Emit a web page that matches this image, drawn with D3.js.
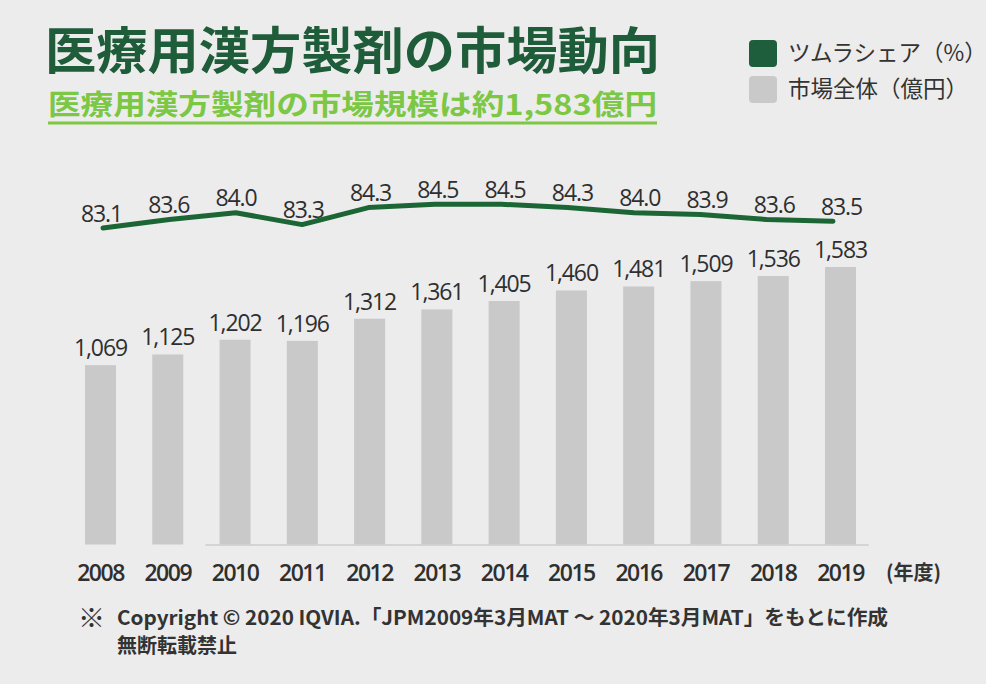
<!DOCTYPE html>
<html lang="ja">
<head>
<meta charset="utf-8">
<script src="https://cdn.jsdelivr.net/npm/d3@7"></script>
<style>
  html, body { margin: 0; padding: 0; background: #ececec; }
  svg { display: block; }
  .jp { font-family: "Noto Sans CJK JP", sans-serif; }
  .num { font-family: "Open Sans", sans-serif; fill: #2f2f2f; }
</style>
</head>
<body>
<svg id="chart" width="986" height="684"></svg>
<script>
const years = ['2008', '2009', '2010', '2011', '2012', '2013', '2014', '2015', '2016', '2017', '2018', '2019'];
const marketSize = [1069, 1125, 1202, 1196, 1312, 1361, 1405, 1460, 1481, 1509, 1536, 1583];
const tsumuraShare = [83.1, 83.6, 84.0, 83.3, 84.3, 84.5, 84.5, 84.3, 84.0, 83.9, 83.6, 83.5];
const legendLabels = ['ツムラシェア（%）', '市場全体（億円）'];
const titleText = '医療用漢方製剤の市場動向';
const subtitleText = '医療用漢方製剤の市場規模は約1,583億円';
const yearUnit = '(年度)';
const noteLines = ['Copyright © 2020 IQVIA.「JPM2009年3月MAT ～ 2020年3月MAT」をもとに作成', '無断転載禁止'];

const colors = {
  title: '#1e5c3a',
  sub: '#7cc744',
  line: '#1b6634',
  legendGreen: '#1e5e3d',
  bar: '#c9c9c9',
  text: '#333333'
};

const svg = d3.select('#chart');

// x positions: bar centres, line is drawn a bit tighter than the bars
const x = d3.scalePoint().domain(years).range([100.5, 840.5]);
const xLine = d3.scalePoint().domain(years).range([103, 833]);
const barWidth = 31;
const y = d3.scaleLinear().domain([130, 1583]).range([544.5, 267]);
const yShare = d3.scaleLinear().domain([83.1, 84.5]).range([228, 204.2]);

// title block
svg.append('text')
  .attr('class', 'jp')
  .attr('x', 45).attr('y', 68.5)
  .attr('textLength', 615)
  .attr('lengthAdjust', 'spacingAndGlyphs')
  .style('font-size', '50px').style('font-weight', 700)
  .attr('fill', colors.title)
  .text(titleText);

svg.append('text')
  .attr('class', 'jp')
  .attr('x', 48).attr('y', 114.5)
  .attr('textLength', 609)
  .attr('lengthAdjust', 'spacingAndGlyphs')
  .style('font-size', '28px').style('font-weight', 700)
  .attr('fill', colors.sub)
  .text(subtitleText);

svg.append('rect')
  .attr('x', 48).attr('y', 121.5)
  .attr('width', 609).attr('height', 3)
  .attr('fill', colors.sub);

// legend
const legend = svg.append('g').attr('transform', 'translate(749,40)');
const legendItems = legend.selectAll('g')
  .data(legendLabels)
  .join('g')
  .attr('transform', (d, i) => 'translate(0,' + i * 36 + ')');
legendItems.append('rect')
  .attr('width', 28).attr('height', 27).attr('rx', 4)
  .attr('fill', (d, i) => i === 0 ? colors.legendGreen : colors.bar);
legendItems.append('text')
  .attr('class', 'jp')
  .attr('x', 39).attr('y', 21)
  .style('font-size', '22.5px')
  .attr('fill', colors.text)
  .text(d => d);

// bars
svg.append('g')
  .selectAll('rect')
  .data(marketSize)
  .join('rect')
  .attr('x', (d, i) => x(years[i]) - barWidth / 2)
  .attr('y', d => y(d))
  .attr('width', barWidth)
  .attr('height', d => y.range()[0] - y(d))
  .attr('fill', colors.bar);

// base line only runs from between 2009/2010 to past 2019
svg.append('line')
  .attr('x1', (x('2009') + x('2010')) / 2 + 4)
  .attr('x2', x('2019') + x.step() * 0.42)
  .attr('y1', y.range()[0] + 0.5)
  .attr('y2', y.range()[0] + 0.5)
  .attr('stroke', '#cdcdcd')
  .attr('stroke-width', 1.6);

svg.append('g')
  .selectAll('text')
  .data(marketSize)
  .join('text')
  .attr('class', 'num')
  .attr('x', (d, i) => x(years[i]))
  .attr('y', d => y(d) - 9)
  .attr('text-anchor', 'middle')
  .style('font-size', '23px')
  .style('letter-spacing', '-1.1px')
  .text(d => d3.format(',')(d));

// share line
const line = d3.line()
  .x((d, i) => xLine(years[i]))
  .y(d => yShare(d));

svg.append('path')
  .datum(tsumuraShare)
  .attr('d', line)
  .attr('fill', 'none')
  .attr('stroke', colors.line)
  .attr('stroke-width', 5)
  .attr('stroke-linecap', 'round')
  .attr('stroke-linejoin', 'round');

svg.append('g')
  .selectAll('text')
  .data(tsumuraShare)
  .join('text')
  .attr('class', 'num')
  .attr('x', (d, i) => x(years[i]) + 1)
  .attr('y', d => yShare(d) - 6.5)
  .attr('text-anchor', 'middle')
  .style('font-size', '23px')
  .style('letter-spacing', '-1.1px')
  .text(d => d.toFixed(1));

// year axis labels
svg.append('g')
  .selectAll('text')
  .data(years)
  .join('text')
  .attr('class', 'num')
  .attr('x', d => x(d))
  .attr('y', 581)
  .attr('text-anchor', 'middle')
  .style('font-size', '23px')
  .style('font-weight', 600)
  .style('letter-spacing', '-1.5px')
  .text(d => d);

svg.append('text')
  .attr('class', 'jp')
  .attr('x', 886).attr('y', 580)
  .style('font-size', '20px').style('font-weight', 700)
  .attr('fill', colors.text)
  .text(yearUnit);

// footnote
svg.append('text')
  .attr('class', 'jp')
  .attr('x', 78).attr('y', 628)
  .style('font-size', '27px').style('font-weight', 700)
  .attr('fill', colors.text)
  .text('※');

svg.append('g')
  .selectAll('text')
  .data(noteLines)
  .join('text')
  .attr('class', 'jp')
  .attr('x', 117)
  .attr('y', (d, i) => 625 + i * 28)
  .attr('textLength', (d, i) => i === 0 ? 771 : null)
  .attr('lengthAdjust', 'spacingAndGlyphs')
  .style('font-size', '20px').style('font-weight', 700)
  .attr('fill', colors.text)
  .text(d => d);
</script>
</body>
</html>
